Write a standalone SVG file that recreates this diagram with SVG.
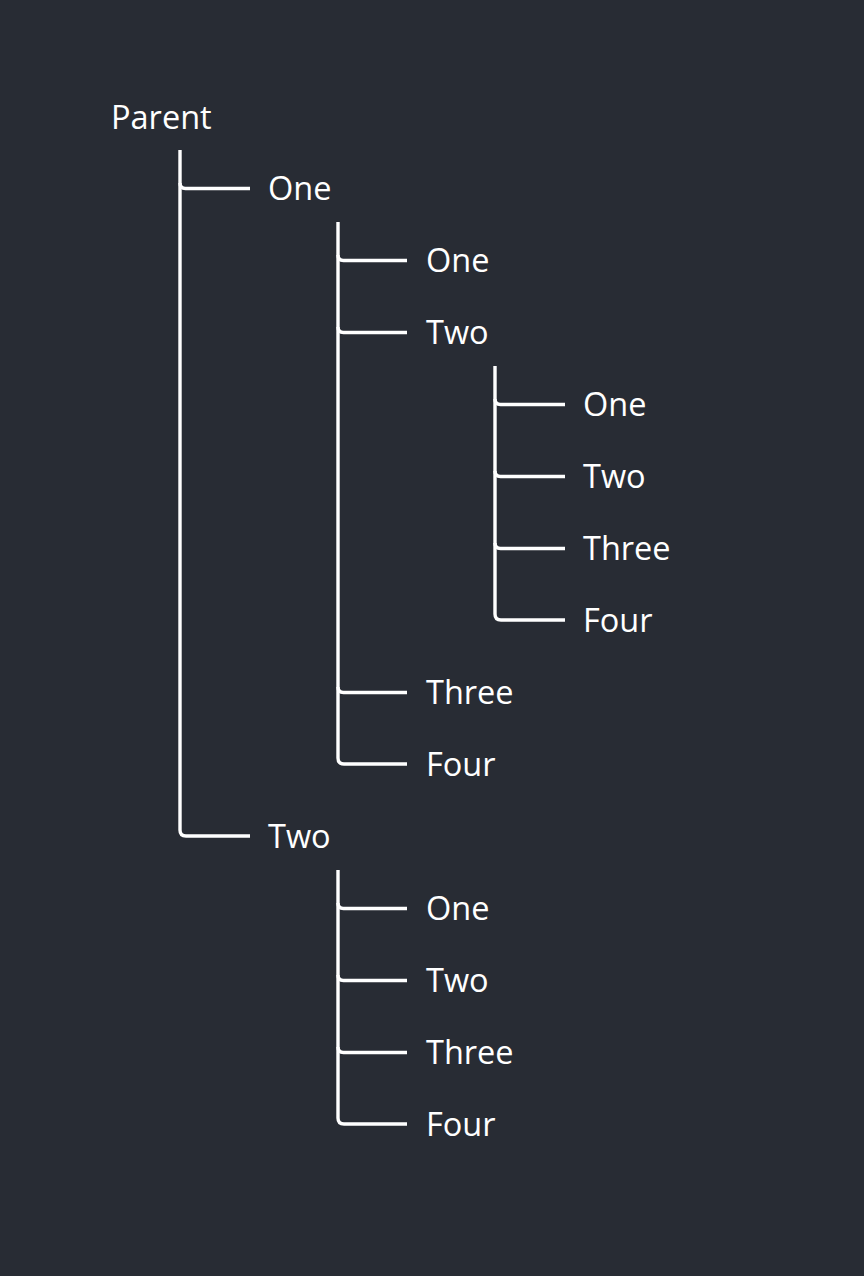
<svg xmlns="http://www.w3.org/2000/svg" width="864" height="1276" viewBox="0 0 864 1276">
<style>
text{font-family:"Open Sans","Noto Sans",sans-serif;font-size:32.5px;fill:#ffffff}
.c path{fill:none;stroke:#ffffff;stroke-width:3.4;stroke-linecap:butt}
</style>
<rect width="864" height="1276" fill="#282c34"/>
<g class="c" id="connectors">
<path d="M180 150 V830 Q180 836 186 836 H250"/>
<path d="M180 183 Q180 188.5 185.5 188.5 H250"/>
<path d="M338 222 V758 Q338 764 344 764 H407"/>
<path d="M338 255 Q338 260.5 343.5 260.5 H407"/>
<path d="M338 327 Q338 332.5 343.5 332.5 H407"/>
<path d="M338 687 Q338 692.5 343.5 692.5 H407"/>
<path d="M495 366 V614 Q495 620 501 620 H565"/>
<path d="M495 399 Q495 404.5 500.5 404.5 H565"/>
<path d="M495 471 Q495 476.5 500.5 476.5 H565"/>
<path d="M495 543 Q495 548.5 500.5 548.5 H565"/>
<path d="M338 870 V1118 Q338 1124 344 1124 H407"/>
<path d="M338 903 Q338 908.5 343.5 908.5 H407"/>
<path d="M338 975 Q338 980.5 343.5 980.5 H407"/>
<path d="M338 1047 Q338 1052.5 343.5 1052.5 H407"/>
</g>
<g id="n-parent"><text x="111" y="129">Parent</text></g>
<g id="n-one"><text x="268" y="200">One</text></g>
<g id="n-one-one"><text x="426" y="272">One</text></g>
<g id="n-one-two"><text x="426" y="344">Two</text></g>
<g id="n-one-two-one"><text x="583" y="416">One</text></g>
<g id="n-one-two-two"><text x="583" y="488">Two</text></g>
<g id="n-one-two-three"><text x="583" y="560">Three</text></g>
<g id="n-one-two-four"><text x="583" y="632">Four</text></g>
<g id="n-one-three"><text x="426" y="704">Three</text></g>
<g id="n-one-four"><text x="426" y="776">Four</text></g>
<g id="n-two"><text x="268" y="848">Two</text></g>
<g id="n-two-one"><text x="426" y="920">One</text></g>
<g id="n-two-two"><text x="426" y="992">Two</text></g>
<g id="n-two-three"><text x="426" y="1064">Three</text></g>
<g id="n-two-four"><text x="426" y="1136">Four</text></g>
</svg>
